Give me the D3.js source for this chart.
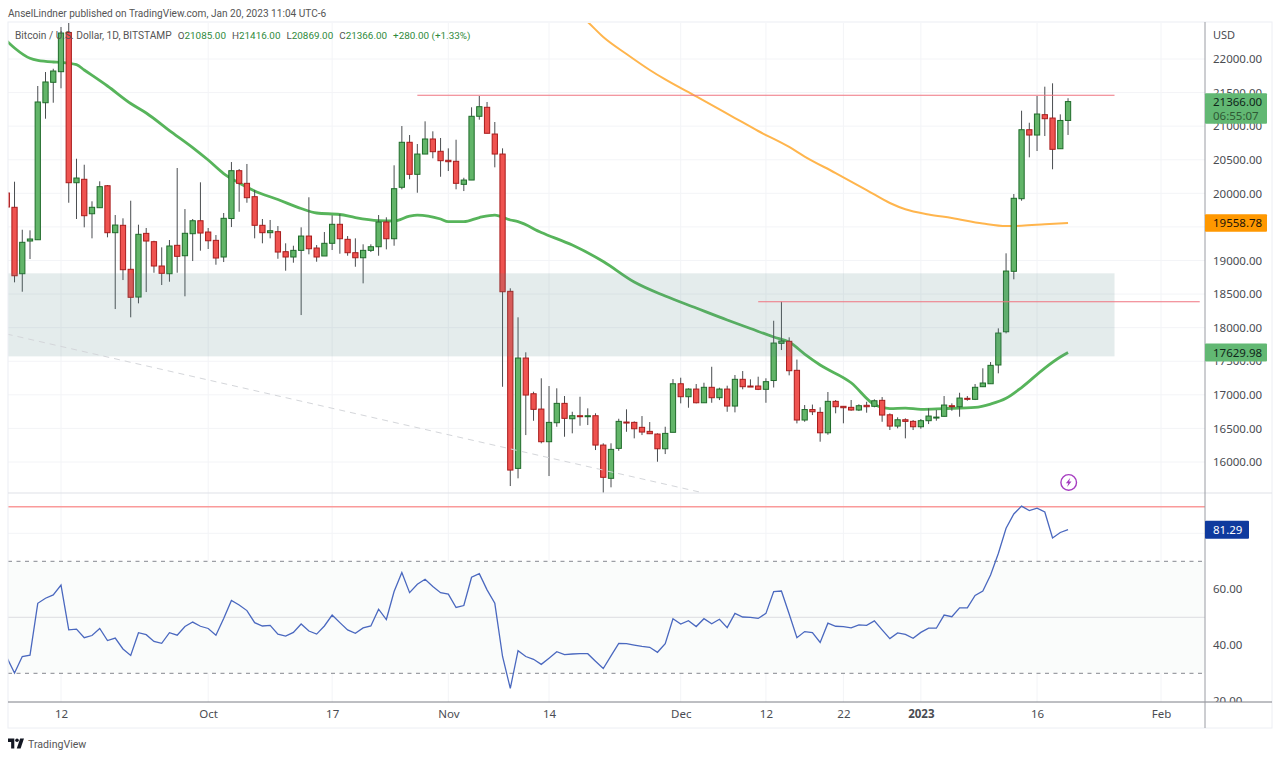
<!DOCTYPE html>
<html>
<head>
<meta charset="utf-8">
<script src="https://cdn.jsdelivr.net/npm/d3@7"></script>
<style>
	body { margin: 0; background: #fff; }
	svg { display: block; }
	text { font-family: "Noto Sans", sans-serif; }
	.narrow { font-family: Roboto, sans-serif; }
</style>
</head>
<body>
<svg id="chart" width="1280" height="758"></svg>
<script>
// first candle is 5 Sep 2022, one per day after that
var firstDay = '2022-09-05';

var opens = [
	20005,19792,18803,19290,19309,21349,21653,21811,22395,20158,
	20209,19696,19786,20113,19414,19524,18869,18456,19404,19280,
	18918,18803,19226,19071,19399,19592,19424,19300,19052,19625,
	20337,20149,19950,19524,19414,19429,19131,19052,19151,19364,
	19186,19067,19256,19539,19315,19116,19041,19151,19205,19573,
	19324,20090,20760,20283,20585,20809,20626,20492,20477,20134,
	20198,21147,21281,20883,20585,18541,15905,17548,17016,16788,
	16302,16585,16873,16644,16689,16674,16689,16252,15757,16203,
	16595,16590,16516,16456,16416,16197,16442,17165,16972,17086,
	16882,17112,16957,17086,16833,17231,17131,17131,17082,17213,
	17767,17797,17365,16625,16781,16739,16435,16903,16829,16814,
	16774,16844,16829,16918,16703,16535,16629,16605,16525,16615,
	16659,16680,16838,16823,16948,16933,17121,17165,17444,17939,
	18839,19920,20947,20868,21171,21121,20664,21085
];
var closes = [
	19796,18773,19271,19320,21360,21658,21821,22387,20158,20228,
	19667,19792,20099,19414,19528,18863,18452,19390,19290,18918,
	18809,19216,19062,19405,19592,19409,19294,19037,19628,20337,
	20149,19935,19524,19414,19443,19126,19052,19151,19364,19175,
	19052,19256,19539,19324,19116,19041,19151,19205,19573,19324,
	20069,20760,20283,20585,20809,20620,20486,20471,20149,20198,
	21147,21290,20894,20585,18535,15880,17548,16997,16784,16302,
	16590,16873,16650,16689,16674,16689,16252,15772,16188,16605,
	16585,16495,16446,16421,16197,16426,17165,16972,17086,16882,
	17112,16957,17086,16833,17231,17121,17116,17082,17196,17771,
	17801,17359,16625,16781,16748,16435,16903,16823,16808,16774,
	16838,16823,16912,16699,16535,16629,16605,16525,16615,16684,
	16669,16848,16823,16952,16933,17112,17176,17439,17920,18843,
	19926,20947,20868,21181,21111,20655,21085,21366
];
var highs = [
	20124,20173,19458,19449,21598,21806,21855,22476,22790,20515,
	20426,19881,20179,20124,19677,19628,19890,19533,19484,19294,
	19196,19305,20377,19766,19618,20164,19484,19379,19707,20466,
	20362,20437,20049,19618,19603,19513,19256,19220,19494,19941,
	19230,19424,19673,19692,19364,19330,19241,19241,19677,19643,
	20417,21002,20868,20734,21072,20923,20824,20670,20798,20232,
	21281,21449,21360,21062,20670,18586,18154,17633,17046,17246,
	17131,17097,16982,16748,16971,16799,16725,16278,16278,16644,
	16784,16605,16684,16595,16426,16525,17235,17255,17097,17161,
	17180,17418,17106,17136,17295,17354,17231,17270,17246,18103,
	18386,17856,17525,16848,16855,16814,17042,16923,16833,16923,
	16859,16897,16933,16967,16724,16665,16650,16625,16640,16799,
	16774,16982,16873,17031,16982,17161,17395,17488,17990,19107,
	19990,21230,21051,21449,21588,21638,21176,21416
];
var lows = [
	19752,18675,18535,19022,19305,21111,21349,21564,19860,19618,
	19494,19330,19781,19345,18277,18709,18154,18362,18530,18818,
	18635,18684,18818,18467,18992,19146,19171,18937,18977,19498,
	19726,19860,19330,19256,19330,19026,18848,18967,18188,19092,
	18982,19067,19156,19101,19071,18907,18660,19126,19071,19166,
	19220,20060,20209,20009,20585,20521,20247,20332,20060,20034,
	20198,21096,20894,20387,17120,15642,15757,16401,16614,16278,
	15791,16525,16376,16427,16540,16550,16178,15542,15623,16167,
	16450,16352,16401,16416,16004,16118,16442,16873,16808,16873,
	16882,16882,16922,16748,16739,17082,17116,17071,16882,17109,
	17667,17290,16575,16599,16699,16302,16406,16725,16576,16763,
	16759,16734,16814,16599,16476,16501,16352,16476,16495,16565,
	16615,16680,16763,16674,16912,16922,17116,17165,17320,17915,
	18720,19890,20536,20630,20853,20358,20664,20869
];
var rsiValues = [
	35.7,30.1,36,36.5,55,56.8,58,61.5,45.5,45.8,
	42.7,43.5,46,41.7,42.6,38.7,36.4,44.5,43.8,41.4,
	40.7,44.5,43.6,46.7,48.3,46.8,46,43.6,49.6,56,
	54.4,52.4,48.1,46.9,47.1,44,43.3,44.6,47.6,45.1,
	44,46.9,50.8,48.1,45.5,44.3,46.2,46.9,52.9,49.2,
	59.2,66,58.8,61.8,63.6,61,58.8,58.3,53.5,54.2,
	64.3,65.6,59.8,55,36,24.6,38.1,36,35,33.2,
	35.4,37.7,36.7,36.9,37,37,34.3,31.7,36.2,40.7,
	40.6,40.1,39.6,39.3,37.5,40.6,49.5,47.6,48.8,46.7,
	49.5,47.7,49.3,46.3,51.4,50.1,50,49.6,51.4,59.2,
	59.4,51.2,42.7,44.9,44.5,41,47.9,46.8,46.7,46.2,
	47.3,47.1,48.7,45.5,42.4,44.4,43.9,42.5,44.6,46.1,
	46.1,50.8,50.2,53.4,53.4,57.8,59.4,65.1,72.8,81.8,
	86.9,89.7,88.1,89,87.6,78.3,80.3,81.29
];

var greenMaDays = [
	'2022-09-05','2022-09-06','2022-09-08','2022-09-09','2022-09-11','2022-09-12','2022-09-14','2022-09-15','2022-09-18','2022-09-21','2022-09-23','2022-09-26','2022-09-29',
	'2022-10-01','2022-10-03','2022-10-05','2022-10-07','2022-10-10','2022-10-13','2022-10-15','2022-10-18','2022-10-20','2022-10-23','2022-10-25','2022-10-27','2022-10-28','2022-10-31',
	'2022-11-01','2022-11-03','2022-11-05','2022-11-07','2022-11-09','2022-11-10','2022-11-13','2022-11-17','2022-11-21','2022-11-25','2022-11-29',
	'2022-12-03','2022-12-07','2022-12-10','2022-12-13','2022-12-15','2022-12-17','2022-12-19','2022-12-23','2022-12-26','2022-12-28','2022-12-30',
	'2023-01-01','2023-01-04','2023-01-08','2023-01-10','2023-01-12','2023-01-14','2023-01-17','2023-01-19','2023-01-20'
];
var greenMaValues = [
	22268,22164,22010,21978,21955,21951,21915,21836,21598,21337,21196,20935,20682,
	20496,20295,20154,20034,19908,19774,19707,19685,19640,19595,19588,19662,19677,19618,
	19578,19578,19640,19677,19603,19578,19417,19230,18985,18680,18471,
	18292,18114,17987,17861,17786,17607,17444,17180,16855,16796,16803,
	16784,16796,16814,16863,16948,17109,17399,17563,17629.98
];
var orangeMaDays = [
	'2022-11-18','2022-11-19','2022-11-21','2022-11-24','2022-11-27','2022-11-29',
	'2022-12-03','2022-12-08','2022-12-11','2022-12-15','2022-12-17','2022-12-21','2022-12-25','2022-12-28','2022-12-30',
	'2023-01-02','2023-01-05','2023-01-09','2023-01-12','2023-01-14','2023-01-17','2023-01-20'
];
var orangeMaValues = [
	22655,22551,22328,22074,21836,21695,
	21442,21121,20928,20690,20548,20302,20049,19856,19762,
	19685,19633,19551,19513,19518,19539,19558.78
];

var priceTicks = [16000,16500,17000,17500,18000,18500,19000,19500,20000,20500,21000,21500,22000];
var rsiTicks = [20,40,60];
var timeTicks = ['2022-09-12','2022-10-01','2022-10-17','2022-11-01','2022-11-14','2022-12-01','2022-12-12','2022-12-22','2023-01-01','2023-01-16','2023-02-01'];
var timeLabels = ['12','Oct','17','Nov','14','Dec','12','22','2023','16','Feb'];

// drawings on the chart: [start day, end day, price]
var resistanceLines = [
	['2022-10-28', '2023-01-26', 21460],
	['2022-12-11', '2023-02-06', 18386]
];
var zoneTop = 18809;
var zoneBottom = 17573;
var zoneEnd = '2023-01-26';
var trendDays = ['2022-09-05', '2022-12-04'];
var trendPrices = [17905, 15538];
var rsiUpperLine = 89.5;

var legendName = 'Bitcoin / U.S. Dollar, 1D, BITSTAMP';
var legendOhlc = ['O21085.00', 'H21416.00', 'L20869.00', 'C21366.00', '+280.00 (+1.33%)'];

var parseDay = d3.utcParse('%Y-%m-%d');

var paneLeft = 8, paneRight = 1205, outerRight = 1272;
var mainTop = 23, mainBottom = 493, rsiBottom = 702, outerBottom = 728;

var x = d3.scaleUtc()
	.domain([parseDay('2022-09-12'), parseDay('2023-02-01')])
	.range([61, 1161]);
var y = d3.scaleLinear().domain([16000, 22000]).range([462, 59]);
var rsiY = d3.scaleLinear().domain([20, 60]).range([701.3, 589.3]);

var dayWidth = x(parseDay('2022-09-13')) - x(parseDay('2022-09-12'));
var bodyWidth = dayWidth * 0.68;

var candles = opens.map(function(o, i) {
	return {
		date: d3.utcDay.offset(parseDay(firstDay), i),
		open: o,
		close: closes[i],
		high: highs[i],
		low: lows[i],
		rsi: rsiValues[i]
	};
});

var svg = d3.select('#chart');
var defs = svg.append('defs');

function addClip(id, x0, y0, w, h) {
	defs.append('clipPath').attr('id', id).append('rect')
		.attr('x', x0).attr('y', y0).attr('width', w).attr('height', h);
}
addClip('main-clip', paneLeft, mainTop, paneRight - paneLeft, mainBottom - mainTop);
addClip('rsi-clip', paneLeft, mainBottom, paneRight - paneLeft, rsiBottom - mainBottom);
addClip('price-clip', paneRight, mainTop, outerRight - paneRight, mainBottom - mainTop);
addClip('rsi-axis-clip', paneRight, mainBottom, outerRight - paneRight, rsiBottom - mainBottom);

// header
svg.append('text').attr('x', 8).attr('y', 16.5)
	.attr('class', 'narrow')
	.attr('font-size', 10.1).attr('fill', '#555')
	.text('AnselLindner published on TradingView.com, Jan 20, 2023 11:04 UTC-6');

// grid
var grid = svg.append('g').attr('stroke', '#f3f4f7').attr('stroke-width', 1);
grid.selectAll('.v').data(timeTicks).enter().append('line')
	.attr('x1', function(d) { return x(parseDay(d)); })
	.attr('x2', function(d) { return x(parseDay(d)); })
	.attr('y1', mainTop).attr('y2', rsiBottom);
grid.selectAll('.h').data(priceTicks).enter().append('line')
	.attr('x1', paneLeft).attr('x2', paneRight)
	.attr('y1', function(d) { return y(d); })
	.attr('y2', function(d) { return y(d); });
grid.selectAll('.r').data([40, 60, 80]).enter().append('line')
	.attr('x1', paneLeft).attr('x2', paneRight)
	.attr('y1', function(d) { return rsiY(d); })
	.attr('y2', function(d) { return rsiY(d); });

var main = svg.append('g').attr('clip-path', 'url(#main-clip)');

// moving averages go under the candles
var maLine = d3.line()
	.x(function(d) { return x(parseDay(d[0])); })
	.y(function(d) { return y(d[1]); })
	.curve(d3.curveMonotoneX);

main.append('path')
	.attr('d', maLine(d3.zip(greenMaDays, greenMaValues)))
	.attr('fill', 'none').attr('stroke', '#57b45b').attr('stroke-width', 2.8);
main.append('path')
	.attr('d', maLine(d3.zip(orangeMaDays, orangeMaValues)))
	.attr('fill', 'none').attr('stroke', '#ffb54d').attr('stroke-width', 2);

var candleG = main.selectAll('.candle').data(candles).enter().append('g').attr('class', 'candle');
candleG.append('line')
	.attr('x1', function(d) { return x(d.date); })
	.attr('x2', function(d) { return x(d.date); })
	.attr('y1', function(d) { return y(d.high); })
	.attr('y2', function(d) { return y(d.low); })
	.attr('stroke', '#4a4d50').attr('stroke-width', 1);
candleG.append('rect')
	.attr('x', function(d) { return x(d.date) - bodyWidth / 2; })
	.attr('width', bodyWidth)
	.attr('y', function(d) { return y(Math.max(d.open, d.close)); })
	.attr('height', function(d) { return Math.max(1, Math.abs(y(d.open) - y(d.close))); })
	.attr('fill', function(d) { return d.close >= d.open ? '#62b569' : '#ef5350'; })
	.attr('stroke', function(d) { return d.close >= d.open ? '#1f6b2a' : '#a81c1c'; })
	.attr('stroke-width', 1);

// zone sits on top of the candles, they show through it
main.append('rect')
	.attr('x', paneLeft).attr('y', y(zoneTop))
	.attr('width', x(parseDay(zoneEnd)) - paneLeft)
	.attr('height', y(zoneBottom) - y(zoneTop))
	.attr('fill', 'rgb(90,135,135)').attr('fill-opacity', 0.16);

main.append('line')
	.attr('x1', x(parseDay(trendDays[0]))).attr('y1', y(trendPrices[0]))
	.attr('x2', x(parseDay(trendDays[1]))).attr('y2', y(trendPrices[1]))
	.attr('stroke', '#d4d6da').attr('stroke-dasharray', '6 5');

main.selectAll('.res').data(resistanceLines).enter().append('line')
	.attr('x1', function(d) { return x(parseDay(d[0])); })
	.attr('x2', function(d) { return x(parseDay(d[1])); })
	.attr('y1', function(d) { return y(d[2]); })
	.attr('y2', function(d) { return y(d[2]); })
	.attr('stroke', '#ef7480').attr('stroke-width', 1.2);

// alert icon
var bolt = svg.append('g').attr('transform', 'translate(1068.7,482.4)');
bolt.append('circle').attr('r', 7.8).attr('fill', '#fff').attr('stroke', '#a63cc0').attr('stroke-width', 1.4);
bolt.append('path').attr('d', 'M1.6,-4.6 L-2.8,0.9 L-0.4,0.9 L-1.6,4.6 L2.8,-1 L0.4,-1 Z').attr('fill', '#a63cc0');

// RSI pane
var rsiPane = svg.append('g').attr('clip-path', 'url(#rsi-clip)');
rsiPane.append('rect')
	.attr('x', paneLeft).attr('width', paneRight - paneLeft)
	.attr('y', rsiY(70)).attr('height', rsiY(30) - rsiY(70))
	.attr('fill', '#fafcfb');
rsiPane.append('line').attr('x1', paneLeft).attr('x2', paneRight)
	.attr('y1', rsiY(50)).attr('y2', rsiY(50)).attr('stroke', '#dcdde2');
rsiPane.selectAll('.band').data([70, 30]).enter().append('line')
	.attr('x1', paneLeft).attr('x2', paneRight)
	.attr('y1', function(d) { return rsiY(d); })
	.attr('y2', function(d) { return rsiY(d); })
	.attr('stroke', '#85878f').attr('stroke-dasharray', '4 4.5');
rsiPane.append('line').attr('x1', paneLeft).attr('x2', paneRight)
	.attr('y1', rsiY(rsiUpperLine)).attr('y2', rsiY(rsiUpperLine))
	.attr('stroke', '#fa9a9a').attr('stroke-width', 1.4);
rsiPane.append('path')
	.datum(candles)
	.attr('d', d3.line()
		.x(function(d) { return x(d.date); })
		.y(function(d) { return rsiY(d.rsi); }))
	.attr('fill', 'none').attr('stroke', '#4a68bf').attr('stroke-width', 1.3);

// axes
function styleAxis(g) {
	g.select('.domain').remove();
	g.selectAll('.tick line').remove();
	g.selectAll('text').attr('fill', '#4a4c52').attr('font-size', 11.5).style('font-family', '"Noto Sans", sans-serif');
}

var priceAxisClip = svg.append('g').attr('clip-path', 'url(#price-clip)');
priceAxisClip.append('g')
	.attr('transform', 'translate(1205,0)')
	.call(d3.axisRight(y).tickValues(priceTicks).tickSize(0).tickPadding(8).tickFormat(d3.format('.2f')))
	.call(styleAxis);
svg.append('g').attr('clip-path', 'url(#rsi-axis-clip)').append('g')
	.attr('transform', 'translate(1205,0)')
	.call(d3.axisRight(rsiY).tickValues(rsiTicks).tickSize(0).tickPadding(8).tickFormat(d3.format('.2f')))
	.call(styleAxis);
svg.append('text').attr('x', 1213).attr('y', 39)
	.attr('font-size', 11).attr('fill', '#4a4c52').text('USD');

var timeAxis = svg.append('g')
	.attr('transform', 'translate(0,' + rsiBottom + ')')
	.call(d3.axisBottom(x)
		.tickValues(timeTicks.map(parseDay))
		.tickSize(0).tickPadding(8)
		.tickFormat(function(d, i) { return timeLabels[i]; }))
	.call(styleAxis);
timeAxis.selectAll('text')
	.attr('font-weight', function(d, i) { return timeLabels[i] === '2023' ? 700 : 400; });

// frame
svg.append('rect').attr('x', paneLeft).attr('y', 22)
	.attr('width', outerRight - paneLeft).attr('height', outerBottom - 22)
	.attr('fill', 'none').attr('stroke', '#eceef3');
svg.append('line').attr('x1', paneLeft).attr('x2', outerRight)
	.attr('y1', mainBottom).attr('y2', mainBottom).attr('stroke', '#dfe1e7');
svg.append('line').attr('x1', paneLeft).attr('x2', outerRight)
	.attr('y1', rsiBottom).attr('y2', rsiBottom).attr('stroke', '#7d7f86');
svg.append('line').attr('x1', paneRight).attr('x2', paneRight)
	.attr('y1', 22).attr('y2', outerBottom).attr('stroke', '#9a9ca3');

// value tags on the axis
function priceTag(yPos, h, w, fill, lines, color) {
	var g = svg.append('g');
	g.append('rect')
		.attr('x', paneRight).attr('y', yPos - h / 2)
		.attr('width', w).attr('height', h).attr('rx', 1).attr('fill', fill);
	lines.forEach(function(t, i) {
		g.append('text')
			.attr('x', paneRight + 8)
			.attr('y', yPos + 4.5 + (i - (lines.length - 1) / 2) * 14)
			.attr('font-size', 11.5).attr('fill', i ? '#2e5a35' : color)
			.text(t);
	});
}
priceTag(y(closes[closes.length - 1]) + 7, 30.5, 62, '#62b873', ['21366.00', '06:55:07'], '#10261a');
priceTag(y(19558.78), 17.5, 62, '#ff9800', ['19558.78'], '#1c1407');
priceTag(y(17629.98), 18, 62, '#62b873', ['17629.98'], '#10261a');
priceTag(rsiY(81.29), 18, 44, '#0f3a9e', ['81.29'], '#fff');

// legend
var legend = svg.append('text').attr('class', 'narrow').attr('x', 15).attr('y', 38.5).attr('font-size', 10.2);
legend.append('tspan').attr('fill', '#555').text(legendName);
legendOhlc.forEach(function(t, i) {
	var tx = legend.append('tspan').attr('dx', 6).attr('font-size', 9.9);
	if (i < 4) {
		tx.append('tspan').attr('fill', '#555').text(t.charAt(0));
		tx.append('tspan').attr('fill', '#2f8a3c').text(t.slice(1));
	} else {
		tx.attr('fill', '#2f8a3c').text(t);
	}
});

// logo + brand
var logo = svg.append('g').attr('transform', 'translate(8,738.5) scale(0.45)').attr('fill', '#131722');
logo.append('path').attr('d', 'M14 0H0v8h7v14h7V0Z');
logo.append('circle').attr('cx', 20).attr('cy', 4).attr('r', 4);
logo.append('path').attr('d', 'M28 22H19.5L27 0h8.5L28 22Z');
svg.append('text').attr('class', 'narrow').attr('x', 28).attr('y', 747.5)
	.attr('font-size', 10.6).attr('fill', '#555').text('TradingView');
</script>
</body>
</html>
